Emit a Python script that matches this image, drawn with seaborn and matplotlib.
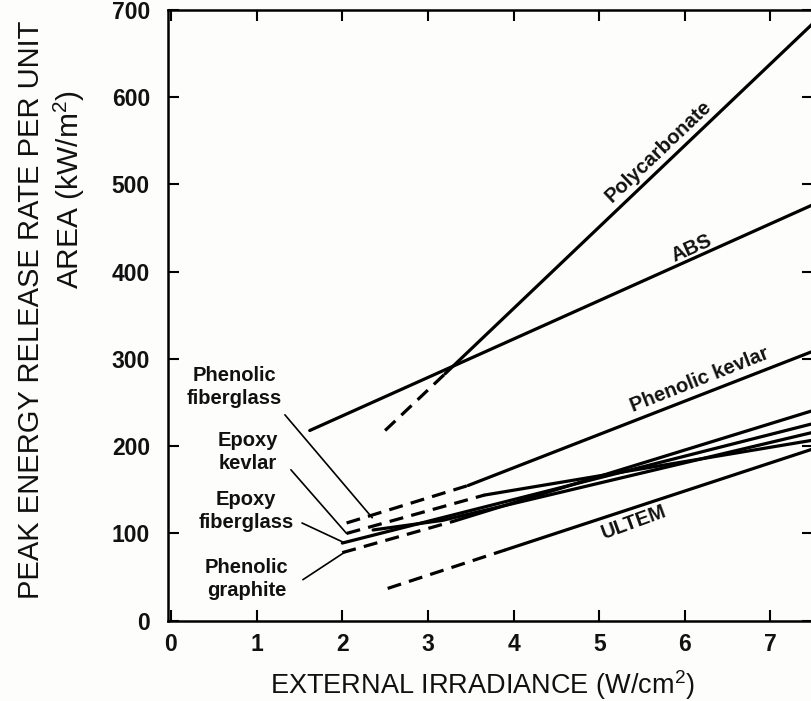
import matplotlib
matplotlib.use("Agg")
import matplotlib.pyplot as plt
import seaborn as sns
import pandas as pd

# ---------------- data ----------------
x_ticks = [0, 1, 2, 3, 4, 5, 6, 7]
y_ticks = [0, 100, 200, 300, 400, 500, 600, 700]

poly_dash_x = [2.50, 3.20]
poly_dash_y = [218, 283]
poly_x = [3.20, 7.50]
poly_y = [283, 685]

abs_x = [1.62, 7.50]
abs_y = [218, 477]

pk_dash_x = [2.05, 3.47]
pk_dash_y = [112, 155]
pk_x = [3.47, 7.50]
pk_y = [155, 309]

ek_dash_x = [2.05, 3.66]
ek_dash_y = [100, 144]
ek_x = [3.66, 7.50]
ek_y = [144, 207]

pf_x = [2.36, 3.17, 7.50]
pf_y = [104, 115, 216]

ef_x = [2.00, 7.50]
ef_y = [89, 226]

pg_dash_x = [2.00, 3.30]
pg_dash_y = [78, 114]
pg_x = [3.30, 7.50]
pg_y = [114, 241]

ultem_dash_x = [2.53, 3.90]
ultem_dash_y = [37, 81]
ultem_x = [3.90, 7.50]
ultem_y = [81, 197]

segments = [
    ("Polycarbonate", "dashed", poly_dash_x, poly_dash_y),
    ("Polycarbonate", "solid", poly_x, poly_y),
    ("ABS", "solid", abs_x, abs_y),
    ("Phenolic kevlar", "dashed", pk_dash_x, pk_dash_y),
    ("Phenolic kevlar", "solid", pk_x, pk_y),
    ("Epoxy kevlar", "dashed", ek_dash_x, ek_dash_y),
    ("Epoxy kevlar", "solid", ek_x, ek_y),
    ("Phenolic fiberglass", "solid", pf_x, pf_y),
    ("Epoxy fiberglass", "solid", ef_x, ef_y),
    ("Phenolic graphite", "dashed", pg_dash_x, pg_dash_y),
    ("Phenolic graphite", "solid", pg_x, pg_y),
    ("ULTEM", "dashed", ultem_dash_x, ultem_dash_y),
    ("ULTEM", "solid", ultem_x, ultem_y),
]

rows = []
for i, (mat, style, xs, ys) in enumerate(segments):
    for xv, yv in zip(xs, ys):
        rows.append({"seg": i, "material": mat, "style": style, "x": xv, "y": yv})
df = pd.DataFrame(rows)

# curve labels: text, x, y, rotation
curve_labels = [
    ("Polycarbonate", 5.69, 538, 43.5),
    ("ABS", 6.08, 427, 24),
    ("Phenolic kevlar", 6.17, 276, 21.5),
    ("ULTEM", 5.40, 113, 20),
]

# side labels: text, text x, text y, leader start, leader end
side_labels = [
    ("Phenolic\nfiberglass", 0.74, 268, (1.33, 236), (2.35, 118)),
    ("Epoxy\nkevlar", 0.90, 193, (1.40, 173), (2.05, 100)),
    ("Epoxy\nfiberglass", 0.88, 126, (1.53, 112), (2.01, 90)),
    ("Phenolic\ngraphite", 0.88, 48, (1.54, 47), (2.02, 78)),
]

# ---------------- plotting ----------------
sns.set_theme(style="ticks")
plt.rcParams["font.family"] = ["Liberation Sans", "DejaVu Sans"]
plt.rcParams["mathtext.fontset"] = "custom"
plt.rcParams["mathtext.rm"] = "Liberation Sans"
plt.rcParams["mathtext.default"] = "rm"

bg = "#fdfdfb"
fig = plt.figure(figsize=(8.11, 7.01), dpi=100, facecolor=bg)
W, H = 811, 701
left_px, right_px, top_px, bottom_px = 168, 813.3, 10, 620.7
ax = fig.add_axes([left_px / W, 1 - bottom_px / H,
                   (right_px - left_px) / W, (bottom_px - top_px) / H])
ax.set_facecolor(bg)

for seg_id, g in df.groupby("seg", sort=False):
    ls = (0, (4.4, 2.6)) if g["style"].iloc[0] == "dashed" else "-"
    sns.lineplot(data=g, x="x", y="y", ax=ax, color="black", lw=2.3,
                 linestyle=ls, sort=False, estimator=None, legend=False)

ax.set_xlim(-0.035, 7.5)
ax.set_ylim(0, 700)
ax.set_xticks(x_ticks)
ax.set_yticks(y_ticks)
ax.set_xticklabels([str(v) for v in x_ticks], fontsize=16.5, fontweight="bold")
ax.set_yticklabels([str(v) for v in y_ticks], fontsize=16.5, fontweight="bold")
ax.tick_params(direction="in", top=True, right=True, length=8, width=1.5,
               color="black", labelcolor="#111111")
ax.tick_params(axis="x", pad=9)
ax.tick_params(axis="y", pad=13)
for sp in ax.spines.values():
    sp.set_visible(True)
    sp.set_linewidth(1.8)
    sp.set_color("black")
ax.set_xlabel("")
ax.set_ylabel("")

for txt, tx, ty, rot in curve_labels:
    ax.text(tx, ty, txt, rotation=rot, rotation_mode="anchor", ha="center",
            va="center", fontsize=14.5, fontweight="bold", color="#111111")

for txt, tx, ty, p0, p1 in side_labels:
    ax.text(tx, ty, txt, ha="center", va="center", fontsize=14.5,
            fontweight="bold", color="#111111", linespacing=1.25)
    sns.lineplot(x=[p0[0], p1[0]], y=[p0[1], p1[1]], ax=ax, color="black",
                 lw=1.2, sort=False, estimator=None, legend=False)

fig.text(482 / W, 1 - 685 / H, "EXTERNAL IRRADIANCE (W/cm$^{2}$)",
         ha="center", va="center", fontsize=19.5, color="#111111")
fig.text(31 / W, 1 - 310 / H, "PEAK ENERGY RELEASE RATE PER UNIT",
         ha="center", va="center", rotation=90, fontsize=21, color="#111111")
fig.text(69 / W, 1 - 190 / H, "AREA (kW/m$^{2}$)",
         ha="center", va="center", rotation=90, fontsize=21.5, color="#111111")

fig.savefig("out.png", dpi=100, facecolor=bg)
